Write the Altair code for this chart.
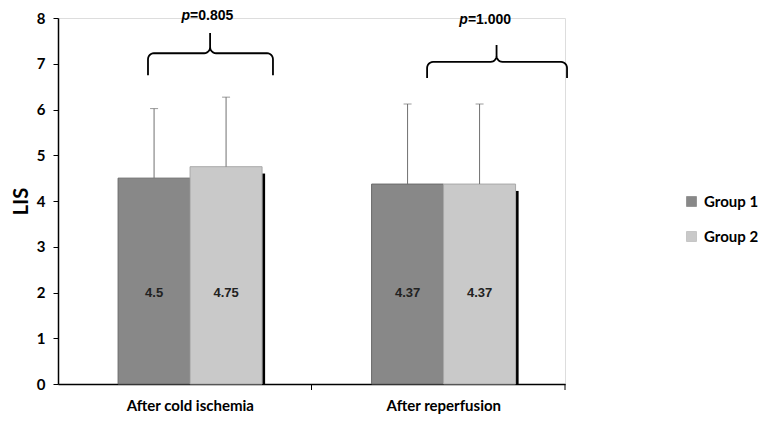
import math
import altair as alt
import pandas as pd

# ---------------- data ----------------
categories = ["After cold ischemia", "After reperfusion"]
groups = ["Group 1", "Group 2"]
means_g1 = [4.5, 4.37]
means_g2 = [4.75, 4.37]
sd_g1 = [1.52, 1.75]
sd_g2 = [1.52, 1.75]
labels_g1 = ["4.5", "4.37"]
labels_g2 = ["4.75", "4.37"]
p_texts = ["=0.805", "=1.000"]
y_ticks = [0, 1, 2, 3, 4, 5, 6, 7, 8]

# ---------------- layout ----------------
W, H = 507, 366
BAR_START = 0.237
BAR_W = 0.284
colors = ["#888888", "#c9c9c9"]
strokes = ["#6a6a6a", "#a9a9a9"]

rows = []
for i, cat in enumerate(categories):
    for j, (g, m, s, lab) in enumerate(zip(groups, [means_g1[i], means_g2[i]],
                                          [sd_g1[i], sd_g2[i]],
                                          [labels_g1[i], labels_g2[i]])):
        x0 = i + BAR_START + j * BAR_W
        rows.append(dict(cat=cat, group=g, mean=m, top=m + s, label=lab,
                         x=x0, x2=x0 + BAR_W, xc=x0 + BAR_W / 2,
                         sx=x0 + BAR_W, sx2=x0 + BAR_W + 0.012, sy2=m - 0.15))
df = pd.DataFrame(rows)

# bracket annotations (category units / LIS units)
brackets = [
    dict(x0=0.355, x1=0.848, xm=0.60, ye=6.75, yh=7.23, yp=7.67, ty=8.04, tx=0.521),
    dict(x0=1.456, x1=2.008, xm=1.73, ye=6.69, yh=7.04, yp=7.41, ty=7.96, tx=1.617),
]
rx = 6 / (W / 2)
ry = 6 / (H / 8)


def arc(cx, cy, a0, a1, n=7):
    return [(cx + rx * math.cos(a0 + (a1 - a0) * k / (n - 1)),
             cy + ry * math.sin(a0 + (a1 - a0) * k / (n - 1))) for k in range(n)]


brow = []
ptxt = []
for b_i, b in enumerate(brackets):
    pts = [(b["x0"], b["ye"])]
    pts += arc(b["x0"] + rx, b["yh"] - ry, math.pi, math.pi / 2)
    pts += arc(b["xm"] - rx, b["yh"] + ry, -math.pi / 2, 0)
    pts += [(b["xm"], b["yp"])]
    pts += arc(b["xm"] + rx, b["yh"] + ry, math.pi, 3 * math.pi / 2)
    pts += arc(b["x1"] - rx, b["yh"] - ry, math.pi / 2, 0)
    pts += [(b["x1"], b["ye"])]
    for k, (px, py) in enumerate(pts):
        brow.append(dict(b=b_i, k=k, x=px, y=py))
    ptxt.append(dict(x=b["tx"], y=b["ty"], t=p_texts[b_i]))
bdf = pd.DataFrame(brow)
pdf = pd.DataFrame(ptxt)
tickdf = pd.DataFrame({"x": [1.0, 2.0]})

label_expr = "datum.value < 1 ? '%s' : '%s'" % (categories[0], categories[1])

xscale = alt.Scale(domain=[0, 2], nice=False, zero=False)
yscale = alt.Scale(domain=[0, 8], nice=False)

base = alt.Chart(df)

bars = base.mark_bar(strokeWidth=1).encode(
    x=alt.X("x:Q", scale=xscale,
            axis=alt.Axis(values=[0.52, 1.52], labelExpr=label_expr, ticks=False,
                          grid=False, title=None, labelPadding=14, labelFontSize=15,
                          labelFont="Lato", labelFontWeight="bold", labelColor="black",
                          domainColor="black", domainWidth=1.5)),
    x2="x2:Q",
    y=alt.Y("mean:Q", scale=yscale,
            axis=alt.Axis(values=y_ticks, grid=False, title="LIS", tickSize=5,
                          tickColor="black", domainColor="black", domainWidth=1.5,
                          labelFontSize=15, labelFont="Lato", labelFontWeight="bold",
                          labelColor="black", labelPadding=8, titleFontSize=20,
                          titleFont="Lato", titleFontWeight="bold", titleColor="black",
                          titlePadding=5)),
    y2=alt.datum(0),
    color=alt.Color("group:N", scale=alt.Scale(domain=groups, range=colors),
                    legend=alt.Legend(title=None, orient="none", legendX=626, legendY=176,
                                      symbolType="square", symbolSize=100,
                                      symbolStrokeColor="#666", symbolStrokeWidth=0.5,
                                      labelFont="Lato", labelFontSize=15,
                                      labelFontWeight="bold", labelColor="black",
                                      rowPadding=19, labelOffset=5, labelLimit=0)),
    stroke=alt.Stroke("group:N", scale=alt.Scale(domain=groups, range=strokes), legend=None),
)

shadow = alt.Chart(df[df["group"] == groups[1]]).mark_bar(color="black").encode(
    x=alt.X("sx:Q", scale=xscale), x2="sx2:Q",
    y=alt.Y("sy2:Q", scale=yscale), y2=alt.datum(0),
)

err = base.mark_rule(color="#707070", strokeWidth=1).encode(
    x=alt.X("xc:Q", scale=xscale), y=alt.Y("mean:Q", scale=yscale), y2="top:Q"
)
caps = base.mark_tick(color="#707070", thickness=1, size=8, orient="horizontal").encode(
    x=alt.X("xc:Q", scale=xscale), y=alt.Y("top:Q", scale=yscale)
)
vals = base.mark_text(font="Liberation Sans", fontWeight="bold", fontSize=13,
                      color="#222").encode(
    x=alt.X("xc:Q", scale=xscale), y=alt.datum(2.0), text="label:N"
)

blines = alt.Chart(bdf).mark_line(color="black", strokeWidth=1.8).encode(
    x=alt.X("x:Q", scale=xscale), y=alt.Y("y:Q", scale=yscale),
    detail="b:N", order="k:Q"
)
p_it = alt.Chart(pdf).mark_text(text="p", font="Liberation Sans", fontStyle="italic",
                                fontWeight="bold", fontSize=14, align="right",
                                color="black").encode(
    x=alt.X("x:Q", scale=xscale), y=alt.Y("y:Q", scale=yscale)
)
p_rest = alt.Chart(pdf).mark_text(font="Liberation Sans", fontWeight="bold", fontSize=14,
                                  align="left", color="black").encode(
    x=alt.X("x:Q", scale=xscale), y=alt.Y("y:Q", scale=yscale), text="t:N"
)

xticks = alt.Chart(tickdf).mark_rule(color="black", strokeWidth=1).encode(
    x=alt.X("x:Q", scale=xscale), y=alt.value(H), y2=alt.value(H + 6)
)

chart = alt.layer(shadow, bars, err, caps, vals, blines, p_it, p_rest, xticks).properties(
    width=W, height=H,
    autosize=alt.AutoSizeParams(type="none"),
    padding={"left": 50, "top": 10, "right": 202, "bottom": 31},
).configure_view(stroke=None).configure(background="white")

chart.save("out.html", embed_options={"renderer": "svg", "actions": False})
